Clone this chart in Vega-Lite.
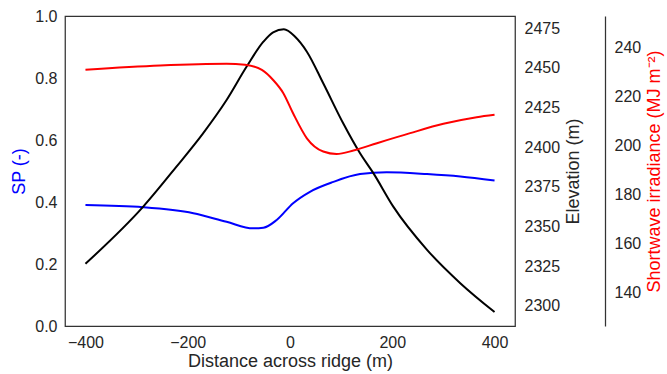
{
  "$schema": "https://vega.github.io/schema/vega-lite/v6.json",
  "width": 450,
  "height": 310,
  "autosize": {"type": "none"},
  "padding": {"left": 65, "top": 16, "right": 152, "bottom": 48},
  "background": "white",
  "config": {
    "view": {"stroke": "#333333", "strokeWidth": 1.25},
    "font": "Liberation Sans",
    "axis": {
      "domain": false, "ticks": false, "grid": false,
      "labelFont": "Liberation Sans", "labelFontSize": 16, "labelColor": "#262626",
      "titleFont": "Liberation Sans", "titleFontSize": 18, "titleFontWeight": "normal", "titleColor": "#262626"
    }
  },
  "datasets": {
    "sp": [
      {"x": -400, "v": 0.390}, {"x": -287, "v": 0.383}, {"x": -189, "v": 0.364}, {"x": -124, "v": 0.336},
      {"x": -72, "v": 0.315}, {"x": -52, "v": 0.317}, {"x": -26, "v": 0.342}, {"x": 6, "v": 0.396},
      {"x": 39, "v": 0.433}, {"x": 85, "v": 0.465}, {"x": 137, "v": 0.490}, {"x": 189, "v": 0.496},
      {"x": 268, "v": 0.490}, {"x": 333, "v": 0.482}, {"x": 400, "v": 0.469}
    ],
    "elev": [
      {"x": -400, "v": 2326.5}, {"x": -287, "v": 2362.5}, {"x": -222, "v": 2387.7}, {"x": -170, "v": 2408.7},
      {"x": -124, "v": 2429.7}, {"x": -85, "v": 2450.6}, {"x": -52, "v": 2466.4}, {"x": -33, "v": 2472.3},
      {"x": -12, "v": 2474.2}, {"x": 10, "v": 2469.5}, {"x": 33, "v": 2460.1}, {"x": 65, "v": 2440.2},
      {"x": 104, "v": 2415.0}, {"x": 137, "v": 2396.1}, {"x": 163, "v": 2383.6}, {"x": 202, "v": 2362.5},
      {"x": 268, "v": 2335.3}, {"x": 333, "v": 2314.3}, {"x": 400, "v": 2296.1}
    ],
    "sw": [
      {"x": -400, "v": 231.1}, {"x": -254, "v": 232.8}, {"x": -124, "v": 233.5}, {"x": -88, "v": 233.1},
      {"x": -55, "v": 231.0}, {"x": -33, "v": 226.9}, {"x": -13, "v": 221.5}, {"x": 6, "v": 213.3},
      {"x": 33, "v": 203.1}, {"x": 65, "v": 197.7}, {"x": 91, "v": 196.7}, {"x": 124, "v": 198.1},
      {"x": 170, "v": 201.1}, {"x": 235, "v": 205.2}, {"x": 300, "v": 209.0}, {"x": 365, "v": 211.7},
      {"x": 400, "v": 212.7}
    ]
  },
  "layer": [
    {
      "data": {"name": "sp"},
      "mark": {"type": "line", "color": "#0000ff", "strokeWidth": 2, "interpolate": "monotone"},
      "encoding": {
        "x": {"field": "x", "type": "quantitative", "scale": {"domain": [-440, 440], "nice": false},
              "axis": {"values": [-400, -200, 0, 200, 400], "title": "Distance across ridge (m)", "labelPadding": 8, "titlePadding": 2}},
        "y": {"field": "v", "type": "quantitative", "scale": {"domain": [0, 1], "nice": false, "zero": false},
              "axis": {"orient": "left", "values": [0, 0.2, 0.4, 0.6, 0.8, 1], "format": ".1f", "title": "SP (-)", "titleColor": "#0000ff", "labelPadding": 8, "titlePadding": 6}}
      }
    },
    {
      "data": {"name": "elev"},
      "mark": {"type": "line", "color": "#000000", "strokeWidth": 2, "interpolate": "monotone"},
      "encoding": {
        "x": {"field": "x", "type": "quantitative"},
        "y": {"field": "v", "type": "quantitative", "scale": {"domain": [2287.3, 2482.6], "nice": false, "zero": false},
              "axis": {"orient": "right", "values": [2300, 2325, 2350, 2375, 2400, 2425, 2450, 2475], "format": "d", "title": "Elevation (m)", "titleAngle": -90, "titleBaseline": "top", "labelPadding": 9, "titlePadding": 5}}
      }
    },
    {
      "data": {"name": "sw"},
      "mark": {"type": "line", "color": "#ff0000", "strokeWidth": 2, "interpolate": "monotone"},
      "encoding": {
        "x": {"field": "x", "type": "quantitative"},
        "y": {"field": "v", "type": "quantitative", "scale": {"domain": [126.5, 253], "nice": false, "zero": false},
              "axis": {"orient": "right", "offset": 90, "domain": true, "domainColor": "#333333", "domainWidth": 1.25, "values": [140, 160, 180, 200, 220, 240], "title": "Shortwave irradiance (MJ m⁻²)", "titleColor": "#ff0000", "titleAngle": -90, "titleBaseline": "top", "labelPadding": 9, "titlePadding": 5}}
      }
    }
  ],
  "resolve": {"scale": {"y": "independent"}}
}
